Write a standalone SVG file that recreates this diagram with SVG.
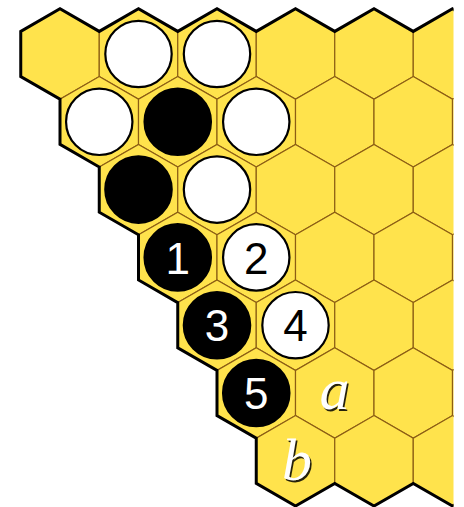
<svg xmlns="http://www.w3.org/2000/svg" xmlns:xlink="http://www.w3.org/1999/xlink" width="464" height="507" viewBox="0 0 464 507">
<style>
.cell{fill:#FFE34C;stroke:#8C5E14;stroke-width:1.2}
.edge{fill:none;stroke:#000;stroke-width:3;stroke-linejoin:miter}
.ws{fill:#fff;stroke:#000;stroke-width:2.2}
.bs{fill:#000;stroke:#000;stroke-width:2.2}
.numw{font-family:"Liberation Sans",Arial,sans-serif;font-size:44px;fill:#fff;text-anchor:middle}
.numb{font-family:"Liberation Sans",Arial,sans-serif;font-size:44px;fill:#000;text-anchor:middle}
.lab{font-family:"Liberation Serif","Times New Roman",serif;font-style:italic;font-size:60px;text-anchor:middle}
.sh{fill:#000;opacity:0.85}
.lw{fill:#fff}
</style>
<defs>
<polygon id="hex" class="cell" points="0,-45.2 39.25,-22.6 39.25,22.6 0,45.2 -39.25,22.6 -39.25,-22.6"/>
<clipPath id="clip"><rect x="0" y="0" width="453.5" height="507"/></clipPath>
</defs>
<g clip-path="url(#clip)">
<g id="board">
<use xlink:href="#hex" x="60" y="54"/><use xlink:href="#hex" x="138.5" y="54"/><use xlink:href="#hex" x="217" y="54"/><use xlink:href="#hex" x="295.5" y="54"/><use xlink:href="#hex" x="374" y="54"/><use xlink:href="#hex" x="452.5" y="54"/>
<use xlink:href="#hex" x="99.25" y="121.8"/><use xlink:href="#hex" x="177.75" y="121.8"/><use xlink:href="#hex" x="256.25" y="121.8"/><use xlink:href="#hex" x="334.75" y="121.8"/><use xlink:href="#hex" x="413.25" y="121.8"/><use xlink:href="#hex" x="491.75" y="121.8"/>
<use xlink:href="#hex" x="138.5" y="189.6"/><use xlink:href="#hex" x="217" y="189.6"/><use xlink:href="#hex" x="295.5" y="189.6"/><use xlink:href="#hex" x="374" y="189.6"/><use xlink:href="#hex" x="452.5" y="189.6"/>
<use xlink:href="#hex" x="177.75" y="257.4"/><use xlink:href="#hex" x="256.25" y="257.4"/><use xlink:href="#hex" x="334.75" y="257.4"/><use xlink:href="#hex" x="413.25" y="257.4"/><use xlink:href="#hex" x="491.75" y="257.4"/>
<use xlink:href="#hex" x="217" y="325.2"/><use xlink:href="#hex" x="295.5" y="325.2"/><use xlink:href="#hex" x="374" y="325.2"/><use xlink:href="#hex" x="452.5" y="325.2"/>
<use xlink:href="#hex" x="256.25" y="393"/><use xlink:href="#hex" x="334.75" y="393"/><use xlink:href="#hex" x="413.25" y="393"/><use xlink:href="#hex" x="491.75" y="393"/>
<use xlink:href="#hex" x="295.5" y="460.8"/><use xlink:href="#hex" x="374" y="460.8"/><use xlink:href="#hex" x="452.5" y="460.8"/>
</g>
<path id="border" class="edge" d="M491.75,31.4 L452.5,8.8 L413.25,31.4 L374,8.8 L334.75,31.4 L295.5,8.8 L256.25,31.4 L217,8.8 L177.75,31.4 L138.5,8.8 L99.25,31.4 L60,8.8 L20.75,31.4 L20.75,76.6 L60,99.2 L60,144.4 L99.25,167 L99.25,212.2 L138.5,234.8 L138.5,280 L177.75,302.6 L177.75,347.8 L217,370.4 L217,415.6 L256.25,438.2 L256.25,483.4 L295.5,506 L334.75,483.4 L374,506 L413.25,483.4 L452.5,506 L491.75,483.4"/>
</g>
<g id="stones">
<g id="w1"><circle class="ws" cx="138.5" cy="54" r="33.2"/></g>
<g id="w2"><circle class="ws" cx="217" cy="54" r="33.2"/></g>
<g id="w3"><circle class="ws" cx="99.25" cy="121.8" r="33.2"/></g>
<g id="b1"><circle class="bs" cx="177.75" cy="121.8" r="33.2"/></g>
<g id="w4"><circle class="ws" cx="256.25" cy="121.8" r="33.2"/></g>
<g id="b2"><circle class="bs" cx="138.5" cy="189.6" r="33.2"/></g>
<g id="w5"><circle class="ws" cx="217" cy="189.6" r="33.2"/></g>
<g id="move1"><circle class="bs" cx="177.75" cy="257.4" r="33.2"/><text class="numw" x="177.75" y="273.5">1</text></g>
<g id="move2"><circle class="ws" cx="256.25" cy="257.4" r="33.2"/><text class="numb" x="256.25" y="273.5">2</text></g>
<g id="move3"><circle class="bs" cx="217" cy="325.2" r="33.2"/><text class="numw" x="217" y="341.3">3</text></g>
<g id="move4"><circle class="ws" cx="295.5" cy="325.2" r="33.2"/><text class="numb" x="295.5" y="341.3">4</text></g>
<g id="move5"><circle class="bs" cx="256.25" cy="393" r="33.2"/><text class="numw" x="256.25" y="409.1">5</text></g>
</g>
<g id="label-a"><text class="lab sh" x="336" y="410.5">a</text><text class="lab lw" x="334.5" y="409">a</text></g>
<g id="label-b"><text class="lab sh" x="298.5" y="481.5">b</text><text class="lab lw" x="297" y="480">b</text></g>
</svg>
